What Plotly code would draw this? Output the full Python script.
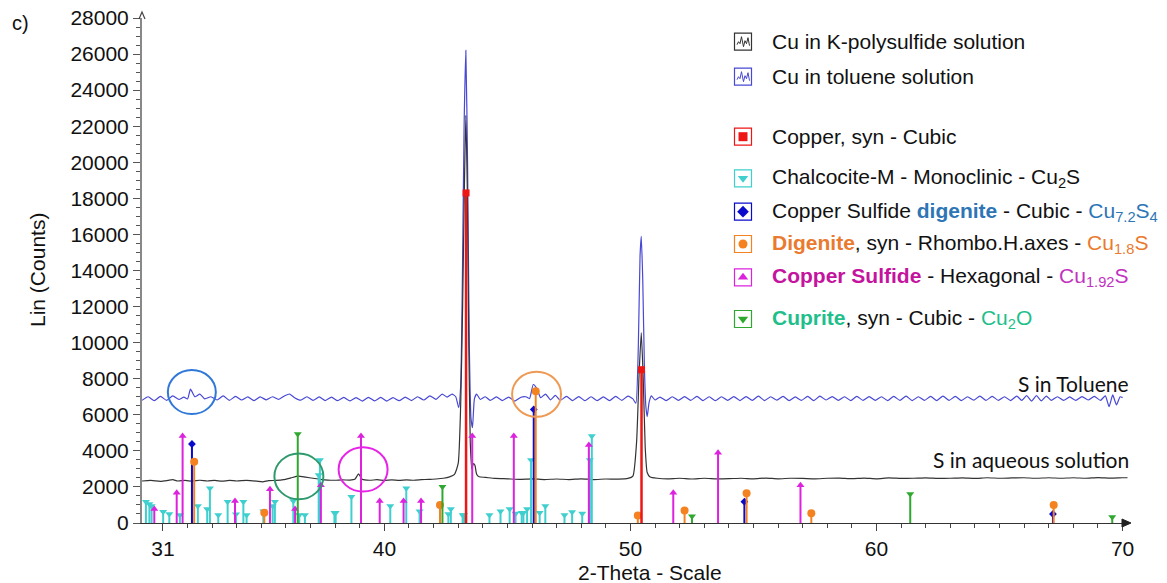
import plotly.graph_objects as go

# ---------------------------------------------------------------- data
# Measured XRD trace: Cu in toluene solution (2-theta, counts)
tol_2theta = [
    30.15, 30.4, 30.65, 30.9, 31.15, 31.4, 31.65, 31.85, 32.0, 32.12,
    32.3, 32.5, 32.7, 32.95, 33.2, 33.45, 33.7, 33.95, 34.2, 34.45,
    34.7, 34.95, 35.2, 35.45, 35.7, 35.95, 36.15, 36.35, 36.6, 36.85,
    37.1, 37.35, 37.6, 37.85, 38.1, 38.35, 38.6, 38.85, 39.1, 39.35,
    39.6, 39.85, 40.1, 40.35, 40.6, 40.85, 41.1, 41.35, 41.6, 41.85,
    42.1, 42.35, 42.55, 42.75, 42.9, 43.02, 43.1, 43.17, 43.24, 43.31,
    43.38, 43.45, 43.52, 43.58, 43.66, 43.75, 43.9, 44.1, 44.3, 44.55,
    44.8, 45.05, 45.3, 45.55, 45.75, 45.9, 46.05, 46.2, 46.35, 46.55,
    46.75, 46.95, 47.15, 47.4, 47.65, 47.9, 48.15, 48.4, 48.65, 48.9,
    49.15, 49.4, 49.65, 49.9, 50.1, 50.22, 50.32, 50.39, 50.44, 50.5,
    50.57, 50.63, 50.68, 50.76, 50.85, 51.0, 51.2, 51.45, 51.7, 51.95,
    52.2, 52.45, 52.7, 52.95, 53.2, 53.45, 53.7, 53.95, 54.2, 54.45,
    54.7, 54.95, 55.2, 55.45, 55.7, 55.95, 56.2, 56.45, 56.7, 56.95,
    57.2, 57.45, 57.7, 57.95, 58.2, 58.45, 58.7, 58.95, 59.2, 59.45,
    59.7, 59.95, 60.2, 60.45, 60.7, 60.95, 61.2, 61.45, 61.7, 61.95,
    62.2, 62.45, 62.7, 62.95, 63.2, 63.45, 63.7, 63.95, 64.2, 64.45,
    64.7, 64.95, 65.2, 65.45, 65.7, 65.9, 66.1, 66.3, 66.5, 66.7,
    66.9, 67.1, 67.35, 67.6, 67.85, 68.1, 68.35, 68.6, 68.85, 69.1,
    69.3, 69.45, 69.6, 69.75, 69.9, 70.0,
]
tol_counts = [
    6800, 7000, 6780, 7020, 6800, 7050, 6850, 6980, 6880, 7420,
    7000, 7150, 6880, 7000, 6820, 7050, 6800, 7020, 6820, 6990,
    6790, 6990, 6830, 7000, 6850, 7060, 7150, 6950, 6810, 7000,
    6800, 6990, 6790, 6980, 6780, 6960, 6770, 6950, 6760, 6970,
    6770, 6960, 6760, 6950, 6780, 6980, 6790, 7000, 6820, 7050,
    6860, 7150, 6980, 7150, 7000, 6400, 7600, 13500, 22000, 26200,
    20000, 10000, 5800, 5280, 6900, 7150, 6850, 7000, 6800, 6990,
    6790, 6980, 6760, 6970, 7000, 6900, 7680, 7450, 6950, 7150,
    6830, 7080, 6800, 7020, 6790, 7010, 6780, 7000, 6780, 6990,
    6790, 7020, 6800, 7040, 6880, 6640, 9800, 14800, 15900, 13500,
    8500, 6400, 5900, 6700, 7050, 6820, 6980, 6790, 7000, 6800,
    7010, 6800, 7020, 6790, 7000, 6780, 7000, 6800, 7010, 6790,
    7010, 6800, 7030, 6790, 7000, 6810, 7020, 6790, 6990, 6800,
    7020, 6790, 7030, 6820, 7010, 6800, 7000, 6790, 7020, 6800,
    7010, 6800, 7000, 6790, 7020, 6800, 7030, 6790, 7000, 6800,
    7020, 6790, 7040, 6800, 7020, 6790, 7000, 6810, 7040, 6800,
    7020, 6800, 7000, 6790, 7040, 6800, 7060, 6760, 7060, 6770,
    7040, 6800, 7000, 6800, 6990, 6800, 7010, 6820, 7020, 6800,
    7050, 6450, 7100, 6550, 7000, 6950,
]

# Measured XRD trace: Cu in K-polysulfide (aqueous) solution
aq_2theta = [
    30.15, 30.5, 30.9, 31.2, 31.4, 31.6, 31.9, 32.2, 32.5, 32.8,
    33.1, 33.4, 33.7, 34.0, 34.4, 34.8, 35.05, 35.3, 35.6, 35.9,
    36.2, 36.5, 36.8, 37.1, 37.4, 37.7, 38.0, 38.3, 38.6, 38.8,
    38.95, 39.1, 39.4, 39.7, 40.0, 40.3, 40.6, 40.9, 41.2, 41.5,
    41.8, 42.1, 42.4, 42.65, 42.85, 43.0, 43.1, 43.18, 43.25, 43.31,
    43.37, 43.43, 43.49, 43.55, 43.62, 43.68, 43.75, 43.85, 44.1, 44.5,
    45.0, 45.5, 46.0, 46.5, 47.0, 47.5, 48.0, 48.5, 49.0, 49.5,
    49.9, 50.1, 50.25, 50.35, 50.44, 50.52, 50.6, 50.68, 50.8, 51.1,
    51.5, 52.0, 52.5, 53.0, 53.5, 54.0, 54.5, 55.0, 55.5, 56.0,
    56.5, 57.0, 57.5, 58.0, 58.5, 59.0, 59.5, 60.0, 60.5, 61.0,
    61.5, 62.0, 62.5, 63.0, 63.5, 64.0, 64.5, 65.0, 65.5, 66.0,
    66.5, 67.0, 67.5, 68.0, 68.5, 69.0, 69.5, 70.0, 70.2,
]
aq_counts = [
    2330, 2360, 2310, 2360, 2400, 2330, 2360, 2320, 2370, 2330,
    2360, 2320, 2360, 2330, 2360, 2320, 2280, 2350, 2360, 2400,
    2500, 2600, 2540, 2480, 2420, 2380, 2370, 2390, 2380, 2420,
    2720, 2420, 2370, 2400, 2360, 2390, 2360, 2390, 2370, 2400,
    2420, 2440, 2480, 2560, 2700, 3300, 6500, 12000, 18500, 22600,
    18500, 10000, 4500, 3000, 3300, 3200, 2700, 2560, 2530, 2470,
    2450, 2420, 2450, 2410, 2440, 2410, 2450, 2410, 2440, 2430,
    2470, 2600, 4500, 8200, 10550, 8000, 4200, 2800, 2550, 2480,
    2450, 2480, 2440, 2480, 2450, 2460, 2480, 2450, 2490, 2450,
    2480, 2470, 2450, 2480, 2490, 2460, 2490, 2450, 2500, 2470,
    2480, 2500, 2470, 2480, 2500, 2470, 2510, 2480, 2500, 2510,
    2480, 2510, 2480, 2510, 2480, 2520, 2490, 2510, 2510,
]

# Reference patterns (stick positions in 2-theta, heights in counts)
copper_pos = [43.32, 50.45]
copper_int = [18300, 8500]

chalcocite_pos = [
    30.31, 30.45, 30.54, 31.01, 31.26, 31.69, 32.42, 32.80, 32.91, 33.25,
    33.63, 33.97, 34.27, 34.40, 35.08, 35.46, 35.55, 36.30, 36.54, 36.77,
    37.33, 37.38, 37.97, 38.02, 38.66, 40.24, 40.89, 41.43, 42.60, 42.70,
    43.18, 43.24, 44.27, 44.72, 45.09, 45.33, 45.58, 45.65, 45.80, 45.96,
    46.31, 46.54, 47.32, 47.63, 48.04, 48.35, 48.43,
]
chalcocite_int = [
    1180, 1050, 940, 630, 500, 440, 940, 770, 1920, 440,
    1180, 480, 1180, 440, 650, 940, 1180, 1220, 440, 440,
    2660, 3490, 570, 570, 1460, 940, 1920, 650, 500, 770,
    440, 440, 440, 650, 770, 520, 570, 570, 770, 3490,
    570, 940, 440, 610, 520, 3490, 4820,
]

hexagonal_pos = [30.65, 31.56, 31.80, 33.93, 35.35, 36.37, 37.42, 39.05, 39.81,
                 40.78, 41.49, 43.57, 45.26, 48.31, 51.74, 53.56, 56.91]
hexagonal_int = [770, 1680, 4820, 1220, 1870, 770, 2100, 4820, 1220,
                 1220, 1220, 4820, 4820, 4320, 1680, 3900, 2100]

cubic_digenite_pos = [32.18, 46.07, 54.63, 67.17]
cubic_digenite_int = [4380, 6300, 1180, 500]

rhombo_digenite_pos = [32.27, 35.12, 42.26, 46.15, 50.30, 52.20, 54.72, 57.35, 67.20]
rhombo_digenite_int = [3400, 570, 1000, 7300, 420, 700, 1650, 540, 1000]

cuprite_pos = [36.48, 42.36, 52.50, 61.37, 69.58]
cuprite_int = [4930, 2010, 370, 1610, 330]

x_tick_vals = [31, 35, 40, 45, 50, 55, 60, 65, 70]
x_tick_text = ["31", "", "40", "", "50", "", "60", "", "70"]
y_tick_vals = list(range(0, 28001, 2000))

# ---------------------------------------------------------------- styling
C_BLACK = "#333333"
C_BLUE = "#4848D4"
C_RED = "#EE1515"
C_CYAN = "#3FCFCF"
C_MAGENTA = "#DD22DD"
C_NAVY = "#0A0ACC"
C_ORANGE = "#F58220"
C_GREEN = "#2FA82F"

FONT = "Liberation Sans, Arial, sans-serif"
LABEL_FONT = "Lato, Open Sans, sans-serif"

W, H = 1167, 583
L, R, T, B = 142, 39, 18, 60
PW, PH = W - L - R, H - T - B


def px(X):
    """page pixel column -> paper x"""
    return (X - L) / PW


def py(Y):
    """page pixel row -> paper y"""
    return (H - B - Y) / PH


def sticks(pos, hts):
    xs, ys = [], []
    for p, h in zip(pos, hts):
        xs += [p, p, None]
        ys += [0, h, None]
    return xs, ys


fig = go.Figure()

# measured patterns
fig.add_trace(go.Scatter(x=tol_2theta, y=tol_counts, mode="lines",
                         line=dict(color=C_BLUE, width=1.2, shape="spline", smoothing=0.5),
                         hoverinfo="skip"))
fig.add_trace(go.Scatter(x=aq_2theta, y=aq_counts, mode="lines",
                         line=dict(color=C_BLACK, width=1.2, shape="spline", smoothing=0.5),
                         hoverinfo="skip"))

# reference stick patterns
phases = [
    (chalcocite_pos, chalcocite_int, C_CYAN, "triangle-down", 7, 2),
    (hexagonal_pos, hexagonal_int, C_MAGENTA, "triangle-up", 7, 2),
    (cubic_digenite_pos, cubic_digenite_int, C_NAVY, "diamond", 6, 2),
    (rhombo_digenite_pos, rhombo_digenite_int, C_ORANGE, "circle", 8, 2),
    (cuprite_pos, cuprite_int, C_GREEN, "triangle-down", 7, 2),
    (copper_pos, copper_int, C_RED, "square", 7, 2.5),
]
for pos, hts, col, sym, msize, lw in phases:
    sx, sy = sticks(pos, hts)
    fig.add_trace(go.Scatter(x=sx, y=sy, mode="lines", line=dict(color=col, width=lw),
                             hoverinfo="skip"))
    fig.add_trace(go.Scatter(x=pos, y=hts, mode="markers",
                             marker=dict(symbol=sym, size=msize, color=col, line=dict(width=0)),
                             hoverinfo="skip"))

# ---------------------------------------------------------------- legend block
legend_rows = [
    (41.7, C_BLACK, None, "Cu in K-polysulfide solution"),
    (76.7, C_BLUE, None, "Cu in toluene solution"),
    (136.7, C_RED, "square", "Copper, syn - Cubic"),
    (178.3, C_CYAN, "triangle-down", "Chalcocite-M - Monoclinic - Cu<sub>2</sub>S"),
    (211.7, C_NAVY, "diamond",
     "Copper Sulfide <b><span style='color:#2E75B6'>digenite</span></b> - Cubic - "
     "<span style='color:#2E75B6'>Cu<sub>7.2</sub>S<sub>4</sub></span>"),
    (244.0, C_ORANGE, "circle",
     "<b><span style='color:#EA7A2E'>Digenite</span></b>, syn - Rhombo.H.axes - "
     "<span style='color:#EA7A2E'>Cu<sub>1.8</sub>S</span>"),
    (277.3, C_MAGENTA, "triangle-up",
     "<b><span style='color:#C4139E'>Copper Sulfide</span></b> - Hexagonal - "
     "<span style='color:#C033C0'>Cu<sub>1.92</sub>S</span>"),
    (319.0, C_GREEN, "triangle-down",
     "<b><span style='color:#1FBF8C'>Cuprite</span></b>, syn - Cubic - "
     "<span style='color:#1FBF8C'>Cu<sub>2</sub>O</span>"),
]

shapes = []
annotations = []
glyph_x, glyph_y, glyph_sym, glyph_col = [], [], [], []
BOX_X, BOX = 743, 17
for yc, col, sym, text in legend_rows:
    shapes.append(dict(type="rect", xref="paper", yref="paper", layer="below",
                       x0=px(BOX_X - BOX / 2), x1=px(BOX_X + BOX / 2),
                       y0=py(yc + BOX / 2), y1=py(yc - BOX / 2),
                       line=dict(color=col, width=1.2), fillcolor="rgba(0,0,0,0)"))
    if sym is None:
        zig = [(-6, 3), (-4.5, 0), (-3, 2), (-1.5, -5), (0.5, 5), (2, -1), (3.5, 2), (5, -4), (6.5, 4)]
        path = "M" + " L".join(f"{px(BOX_X + dx):.5f},{py(yc + dy):.5f}" for dx, dy in zig)
        shapes.append(dict(type="path", xref="paper", yref="paper", path=path,
                           line=dict(color=col, width=1)))
    else:
        glyph_x.append(px(BOX_X))
        glyph_y.append(py(yc))
        glyph_sym.append(sym)
        glyph_col.append(col)
    annotations.append(dict(xref="paper", yref="paper", x=px(770), y=py(yc),
                            xanchor="left", yanchor="middle", showarrow=False,
                            text=text, font=dict(family=FONT, size=21, color="#111111")))

fig.add_trace(go.Scatter(x=glyph_x, y=glyph_y, xaxis="x2", yaxis="y2", mode="markers",
                         marker=dict(symbol=glyph_sym, color=glyph_col, size=9, line=dict(width=0)),
                         cliponaxis=False, hoverinfo="skip"))

# highlight ellipses
ellipses = [
    (31.2, 33.15, 6040, 8480, "#2F78D8"),
    (45.19, 47.18, 5890, 8390, "#EE9A55"),
    (35.53, 37.52, 1310, 3860, "#2E9A6C"),
    (38.14, 40.13, 1740, 4200, "#E623E6"),
]
for x0, x1, y0, y1, col in ellipses:
    shapes.append(dict(type="circle", xref="x", yref="y", x0=x0, x1=x1, y0=y0, y1=y1,
                       line=dict(color=col, width=2)))

# axis arrowheads
shapes.append(dict(type="path", xref="paper", yref="paper",
                   path=f"M{px(1122):.5f},{py(519):.5f} L{px(1131):.5f},{py(523):.5f} "
                        f"L{px(1122):.5f},{py(527):.5f} Z",
                   fillcolor="#222222", line=dict(color="#222222", width=1)))
shapes.append(dict(type="path", xref="paper", yref="paper",
                   path=f"M{px(139):.5f},{py(19):.5f} L{px(142):.5f},{py(12):.5f} "
                        f"L{px(145):.5f},{py(19):.5f}",
                   line=dict(color="#444444", width=1.2)))

# curve labels, axis titles and panel tag
annotations += [
    dict(xref="paper", yref="paper", x=px(1131), y=py(383), xanchor="right", yanchor="middle",
         showarrow=False, text="S in Toluene", font=dict(family=LABEL_FONT, size=21, color="#111111")),
    dict(xref="paper", yref="paper", x=px(1131), y=py(459), xanchor="right", yanchor="middle",
         showarrow=False, text="S in aqueous solution",
         font=dict(family=LABEL_FONT, size=21, color="#111111")),
    dict(xref="paper", yref="paper", x=px(10), y=py(23), xanchor="left", yanchor="middle",
         showarrow=False, text="c)", font=dict(family=FONT, size=20, color="#111111")),
    dict(xref="paper", yref="paper", x=px(650), y=py(572), xanchor="center", yanchor="middle",
         showarrow=False, text="2-Theta - Scale", font=dict(family=FONT, size=21, color="#111111")),
    dict(xref="paper", yref="paper", x=px(37), y=py(270), xanchor="center", yanchor="middle",
         showarrow=False, textangle=-90, text="Lin (Counts)",
         font=dict(family=FONT, size=21, color="#111111")),
]

fig.update_layout(
    width=W, height=H, autosize=False,
    margin=dict(l=L, r=R, t=T, b=B, pad=0),
    paper_bgcolor="white", plot_bgcolor="white",
    showlegend=False,
    font=dict(family=FONT, size=19, color="#111111"),
    shapes=shapes, annotations=annotations,
    xaxis=dict(range=[30.15, 70.22], showgrid=False, zeroline=False, automargin=False,
               showline=True, linecolor="#333333", linewidth=1.3,
               tickmode="array", tickvals=x_tick_vals, ticktext=x_tick_text,
               ticks="outside", ticklen=7, tickwidth=1, tickcolor="#444444",
               tickfont=dict(size=21),
               minor=dict(tickmode="array", tickvals=list(range(31, 71)),
                          ticks="outside", ticklen=4, tickcolor="#444444")),
    yaxis=dict(range=[0, 28000], showgrid=False, zeroline=False, automargin=False,
               showline=True, linecolor="#888888", linewidth=2,
               tickmode="array", tickvals=y_tick_vals, tickformat="d",
               ticks="outside", ticklen=7, tickwidth=1, tickcolor="#555555",
               tickfont=dict(size=21),
               minor=dict(tickmode="array", tickvals=list(range(0, 28001, 500)),
                          ticks="outside", ticklen=4, tickcolor="#555555")),
    xaxis2=dict(overlaying="x", range=[0, 1], visible=False, fixedrange=True),
    yaxis2=dict(overlaying="y", range=[0, 1], visible=False, fixedrange=True),
)

fig.write_html("out.html")
